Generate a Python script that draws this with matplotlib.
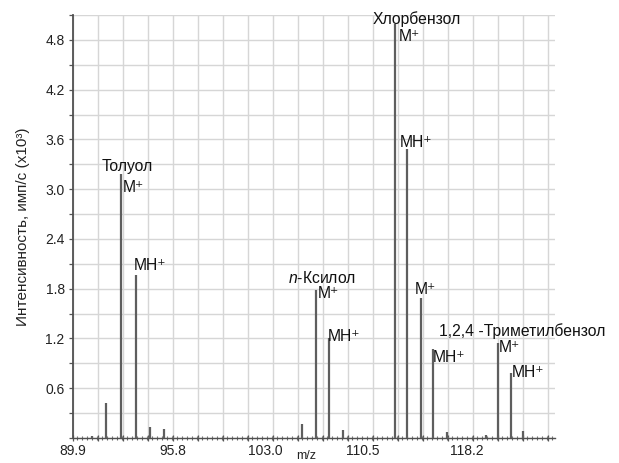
import numpy as np
import matplotlib.pyplot as plt
from matplotlib.ticker import MultipleLocator
import matplotlib.transforms as mtransforms

plt.rcParams['font.family'] = ['Liberation Sans', 'DejaVu Sans']
plt.rcParams['mathtext.fontset'] = 'custom'
plt.rcParams['mathtext.it'] = 'Liberation Sans:italic'
plt.rcParams['mathtext.rm'] = 'Liberation Sans'

# peak positions (m/z) and intensities (x10^3 counts/s)
mz = [89.62, 90.66, 91.78, 92.90, 93.95, 95.00, 105.30, 106.35, 107.32, 108.36,
      112.25, 113.14, 114.19, 115.09, 116.13, 119.04, 119.94, 120.91, 121.81]
intensity = [0.02, 0.42, 3.18, 1.97, 0.13, 0.11, 0.17, 1.78, 1.21, 0.10,
             4.99, 3.48, 1.69, 1.07, 0.07, 0.04, 1.14, 0.78, 0.08]

x_tick_labels = ['89.9', '95.8', '103.0', '110.5', '118.2']
y_tick_labels = ['0.6', '1.2', '1.8', '2.4', '3.0', '3.6', '4.2', '4.8']

# (text, peak index, dx px, dy px, ha)
peak_labels = [
    ('Толуол', 2, 6, 8, 'center'),
    ('M⁺', 2, 2, -13, 'left'),
    ('MH⁺', 3, -2, 9, 'left'),
    ('$\\it{n}$-Ксилол', 7, 6, 12, 'center'),
    ('M⁺', 7, 2, -3, 'left'),
    ('MH⁺', 8, -1, 1, 'left'),
    ('Хлорбензол', 10, 22, 5, 'center'),
    ('M⁺', 10, 4, -12, 'left'),
    ('MH⁺', 11, -7, 7, 'left'),
    ('M⁺', 12, -6, 8, 'left'),
    ('MH⁺', 13, 0, -8, 'left'),
    ('1,2,4 -Триметилбензол', 16, 24, 12, 'center'),
    ('M⁺', 16, 1, -4, 'left'),
    ('MH⁺', 17, 1, 1, 'left'),
]

x_min, x_max = 88.2, 124.2
grid_step = 1.867

fig = plt.figure(figsize=(6.19, 4.63), dpi=100)
ax = fig.add_axes([73 / 619, 1 - 438 / 463, 482 / 619, 423 / 463])

ax.vlines(mz, 0, intensity, color='#5e5e5e', linewidth=1.6, zorder=3)

ax.set_xlim(x_min, x_max)
ax.set_ylim(0, 5.1)

# x axis: gridline every step, label every fourth
grid_x = x_min + grid_step * np.arange(20)
ax.set_xticks(grid_x)
labels = [''] * len(grid_x)
for i, t in enumerate(x_tick_labels):
    labels[i * 4] = t
ax.set_xticklabels(labels)
ax.xaxis.set_minor_locator(MultipleLocator(grid_step / 5))
ax.tick_params(axis='x', which='major', direction='inout', length=5, width=0.9,
               color='#555555', labelsize=10, labelcolor='#222222', pad=2)
ax.tick_params(axis='x', which='minor', direction='inout', length=2.5, width=0.8,
               color='#666666')
shift = [0, 0, -8, -10, -6]
for i, s in enumerate(shift):
    lab = ax.get_xticklabels()[i * 4]
    lab.set_transform(lab.get_transform() +
                      mtransforms.ScaledTranslation(s / 100, 0, fig.dpi_scale_trans))

# y axis: gridline every 0.3, label every 0.6
grid_y = np.arange(0, 5.11, 0.3)
ax.set_yticks(grid_y)
ylabels = [''] * len(grid_y)
for i, t in enumerate(y_tick_labels):
    ylabels[(i + 1) * 2] = t
ax.set_yticklabels(ylabels)
ax.tick_params(axis='y', direction='out', length=3, width=0.9, color='#555555',
               labelsize=10, labelcolor='#222222', pad=3)

ax.grid(True, color='#d6d6d6', linewidth=1.0, zorder=0)
ax.set_axisbelow(True)

for side in ['top', 'right']:
    ax.spines[side].set_visible(False)
ax.spines['left'].set_color('#505050')
ax.spines['left'].set_linewidth(1.3)
ax.spines['bottom'].set_color('#505050')
ax.spines['bottom'].set_linewidth(1.0)

ax.set_ylabel('Интенсивность, имп/с (x10³)', fontsize=11, color='#222222', labelpad=11)
fig.text(306 / 619, 1 - 456 / 463, 'm/z', fontsize=9, color='#222222',
         ha='center', va='center')

for text, idx, dx, dy, ha in peak_labels:
    ax.annotate(text, (mz[idx], intensity[idx]), xytext=(dx * 0.72, dy * 0.72),
                textcoords='offset points', ha=ha, va='center', fontsize=11.3,
                color='#111111', zorder=4)

fig.savefig('out.png', dpi=100)
